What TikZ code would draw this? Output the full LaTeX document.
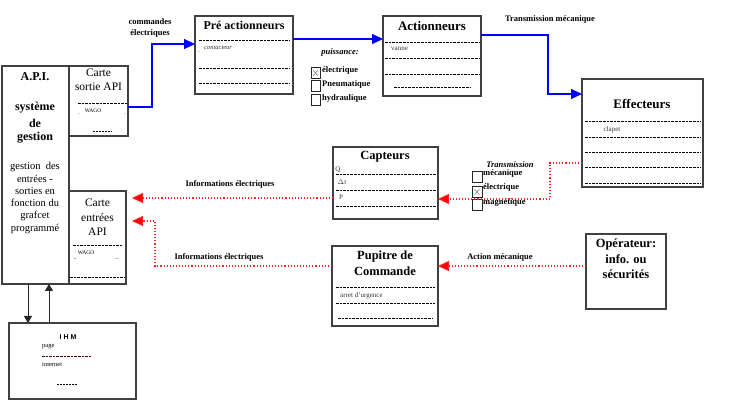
\documentclass[tikz,border=0pt]{standalone}
\usepackage{fontspec}
\setmainfont{Liberation Serif}
\newfontfamily\arialf{Liberation Sans}
\usetikzlibrary{arrows.meta}
\newcommand\fsz[1]{\fontsize{#1}{#1}\selectfont}
\definecolor{boxgray}{HTML}{404040}
\definecolor{dotred}{HTML}{FF2020}
\tikzset{
  box/.style={draw=boxgray, line width=1.4pt, inner sep=0pt, outer sep=0pt, anchor=north west},
  ttl/.style={font=\fsz{12.5}\bfseries, inner sep=0pt},
  lbl/.style={font=\fsz{8.5}\bfseries, inner sep=0pt},
  small/.style={font=\fsz{7}, inner sep=0pt, text=black!80},
  dsh/.style={line width=0.7pt, dash pattern=on 2.6pt off 1pt},
  blueline/.style={draw=blue, line width=1.1pt, -{Triangle[length=11pt,width=10pt]}},
  redline/.style={draw=dotred, line width=1.1pt, dotted, -{Triangle[length=11pt,width=10pt,fill=red]}},
  blackline/.style={draw=black!85, line width=1pt, -{Triangle[length=7pt,width=8pt]}},
  chk/.style={draw=black!85, line width=0.7pt},
  cross/.style={draw=black!55, line width=0.5pt},
}
\begin{document}
\begin{tikzpicture}[x=1pt,y=-1pt]
\useasboundingbox (0,0) rectangle (729,419);
% boxes
\node[box, minimum width=67pt, minimum height=218pt] (api) at (2,66) {};
\node[box, minimum width=59pt, minimum height=70pt] (cs) at (69,66) {};
\node[box, minimum width=57pt, minimum height=93pt] (ce) at (69,191) {};
\node[box, minimum width=127pt, minimum height=76pt] (ihm) at (9,323) {};
\node[box, minimum width=98pt, minimum height=78pt] (pre) at (195,16) {};
\node[box, minimum width=98pt, minimum height=80pt] (act) at (383,16) {};
\node[box, minimum width=121pt, minimum height=108pt] (eff) at (582,79) {};
\node[box, minimum width=105pt, minimum height=72pt] (cap) at (333,147) {};
\node[box, minimum width=106pt, minimum height=80pt] (pup) at (332,246) {};
\node[box, minimum width=80pt, minimum height=75pt] (op) at (586,234) {};

% API text
\node[ttl, font=\fsz{12}\bfseries] (t1) at (35,77) {A.P.I.};
\node[ttl, font=\fsz{12}\bfseries] (t2) at (35,108) {système};
\node[ttl, font=\fsz{12}\bfseries] (t3) at (35,123) {de};
\node[ttl, font=\fsz{12}\bfseries] (t4) at (35,138) {gestion};
\node[inner sep=0pt, font=\fsz{10.5}, align=center] (t5) at (35,198) {gestion\ \ des\\[1.8pt]entrées -\\[1.8pt]sorties en\\[1.8pt]fonction du\\[1.8pt]grafcet\\[1.8pt]programmé};

% Carte sortie
\node[inner sep=0pt, font=\fsz{11.5}] (cs1) at (98.5,73) {Carte};
\node[inner sep=0pt, font=\fsz{11.5}] (cs2) at (98.5,87) {sortie API};
\draw[dsh] (78,103) -- (127,103);
\node[inner sep=0pt, font=\fsz{5.5}] (cs3) at (93,111) {WAGO};
\node[inner sep=0pt, font=\fsz{6}] (cs4) at (79,114) {.};
\node[inner sep=0pt, font=\fsz{6}] (cs5) at (125,114) {.};
\draw[dsh, dash pattern=on 2pt off 1pt] (93,131) -- (112,131);

% Carte entrees
\node[inner sep=0pt, font=\fsz{11.5}] (ce1) at (97.5,203) {Carte};
\node[inner sep=0pt, font=\fsz{11.5}] (ce2) at (97.5,218) {entrées};
\node[inner sep=0pt, font=\fsz{11.5}] (ce3) at (97.5,232) {API};
\draw[dsh] (73,245) -- (122,245);
\node[inner sep=0pt, font=\fsz{5.5}] (ce4) at (86,253) {WAGO};
\node[inner sep=0pt, font=\fsz{6}] (ce5) at (75,260) {-};
\node[inner sep=0pt, font=\fsz{6}] (ce6) at (117,260) {--};
\draw[dsh] (70,277) -- (125,277);

% IHM
\node[inner sep=0pt, font=\arialf\fsz{7}\bfseries] (i1) at (68,337) {I H M};
\node[inner sep=0pt, font=\fsz{6.5}, anchor=west] (i2) at (42,347) {page};
\draw[dsh, draw=black!75!red] (42,356) -- (91,356);
\node[inner sep=0pt, font=\fsz{6.5}, anchor=west] (i3) at (42,364) {internet};
\draw[dsh, dash pattern=on 2pt off 1pt] (57,384) -- (77,384);

% Pre actionneurs
\node[ttl, font=\fsz{12}\bfseries] (p1) at (244,25) {Pré actionneurs};
\draw[dsh] (199,40) -- (290,40);
\draw[dsh] (199,68) -- (290,68);
\draw[dsh] (199,83) -- (290,83);
\node[small, anchor=west, font=\fsz{6.5}\itshape] (p2) at (204,48) {contacteur};
\node[inner sep=0pt, font=\fsz{6}] (p3) at (199,52) {.};

% labels near blue arrows
\node[lbl] (l1) at (150,22) {commandes};
\node[lbl] (l2) at (150,33) {électriques};
\node[lbl, font=\fsz{8.5}\bfseries\itshape] (l3) at (340,52) {puissance:};
\draw[chk] (311,67) rectangle (320,78);
\draw[cross] (313,70) -- (318,76) (313,76) -- (318,70);
\node[lbl, anchor=west] (c1) at (322,70) {électrique};
\draw[chk] (311,80) rectangle (320,91);
\node[lbl, anchor=west] (c2) at (322,84) {Pneumatique};
\draw[chk] (311,94) rectangle (320,105);
\node[lbl, anchor=west] (c3) at (322,98) {hydraulique};

% Actionneurs
\node[ttl, font=\fsz{13}\bfseries] (a1) at (432,26) {Actionneurs};
\draw[dsh] (385,42) -- (479,42);
\draw[dsh] (385,58) -- (479,58);
\draw[dsh] (385,74) -- (479,74);
\draw[dsh] (394,87) -- (471,87);
\node[small, anchor=west] (a2) at (391,49) {vanne};

\node[lbl] (l4) at (550,19) {Transmission mécanique};

% Effecteurs
\node[ttl, font=\fsz{13}\bfseries] (e1) at (642,104) {Effecteurs};
\foreach \yy in {121,137,152,167,183} \draw[dsh] (585,\yy) -- (701,\yy);
\node[small] (e2) at (612,130) {clapet};

% Capteurs
\node[ttl] (k1) at (385,157) {Capteurs};
\node[small] (k2) at (338,170) {Q};
\draw[dsh] (336,174) -- (436,174);
\node[small] (k3) at (342,182.5) {$\Delta$t};
\draw[dsh] (336,190) -- (436,190);
\node[small] (k4) at (341,197) {P};
\draw[dsh] (336,206) -- (436,206);

\node[lbl, font=\fsz{8.5}\bfseries\itshape] (l5) at (510,165) {Transmission};
\draw[chk] (472,171) rectangle (482,182);
\node[lbl, anchor=west] (m1) at (483,173) {mécanique};
\draw[chk] (472,186) rectangle (482,197);
\draw[cross] (474.5,189) -- (479.5,195) (474.5,195) -- (479.5,189);
\node[lbl, anchor=west] (m2) at (483,187) {électrique};
\draw[chk] (472,199) rectangle (482,210);
\node[lbl, anchor=west] (m3) at (483,202) {magnétique};

% Pupitre
\node[ttl] (u1) at (385,256) {Pupitre de};
\node[ttl] (u2) at (385,271) {Commande};
\draw[dsh] (336,287) -- (435,287);
\node[small, anchor=west] (u3) at (340,296) {arret d'urgence};
\draw[dsh] (336,303) -- (435,303);
\draw[dsh] (338,318) -- (433,318);

\node[lbl] (l6) at (500,257) {Action mécanique};

% Operateur
\node[ttl] (o1) at (626,244) {Opérateur:};
\node[ttl] (o2) at (626,259) {info. ou};
\node[ttl] (o3) at (626,274) {sécurités};

\node[lbl] (l7) at (230,184) {Informations électriques};
\node[lbl] (l8) at (219,257) {Informations électriques};

% connectors
\draw[blueline] ([yshift=-6pt]cs.east) -- ++(24,0) |- ([yshift=11pt]pre.west);
\draw[blueline] ([yshift=16pt]pre.east) coordinate (b1) -- (b1 -| act.west);
\draw[blueline] ([yshift=21pt]act.east) -- ++(67,0) |- ([yshift=39pt]eff.west);
\draw[redline] ([yshift=-30pt]eff.west) -- ++(-32,0) |- ([yshift=-16pt]cap.east);
\draw[redline, shorten >=6pt] ([yshift=-15pt]cap.west) coordinate (r1) -- (r1 -| ce.east);
\draw[redline, shorten >=6pt] ([yshift=20pt]pup.west) -- ++(-177,0) |- ([yshift=16.5pt]ce.east);
\draw[redline] ([yshift=5.5pt]op.west) coordinate (r2) -- (r2 -| pup.east);
\draw[blackline] ([xshift=-7.5pt]api.south) coordinate (k5) -- (k5 |- ihm.north);
\coordinate (k6) at ([xshift=13.5pt]api.south);
\draw[blackline] (k6 |- ihm.north) -- (k6);
\end{tikzpicture}
\end{document}
